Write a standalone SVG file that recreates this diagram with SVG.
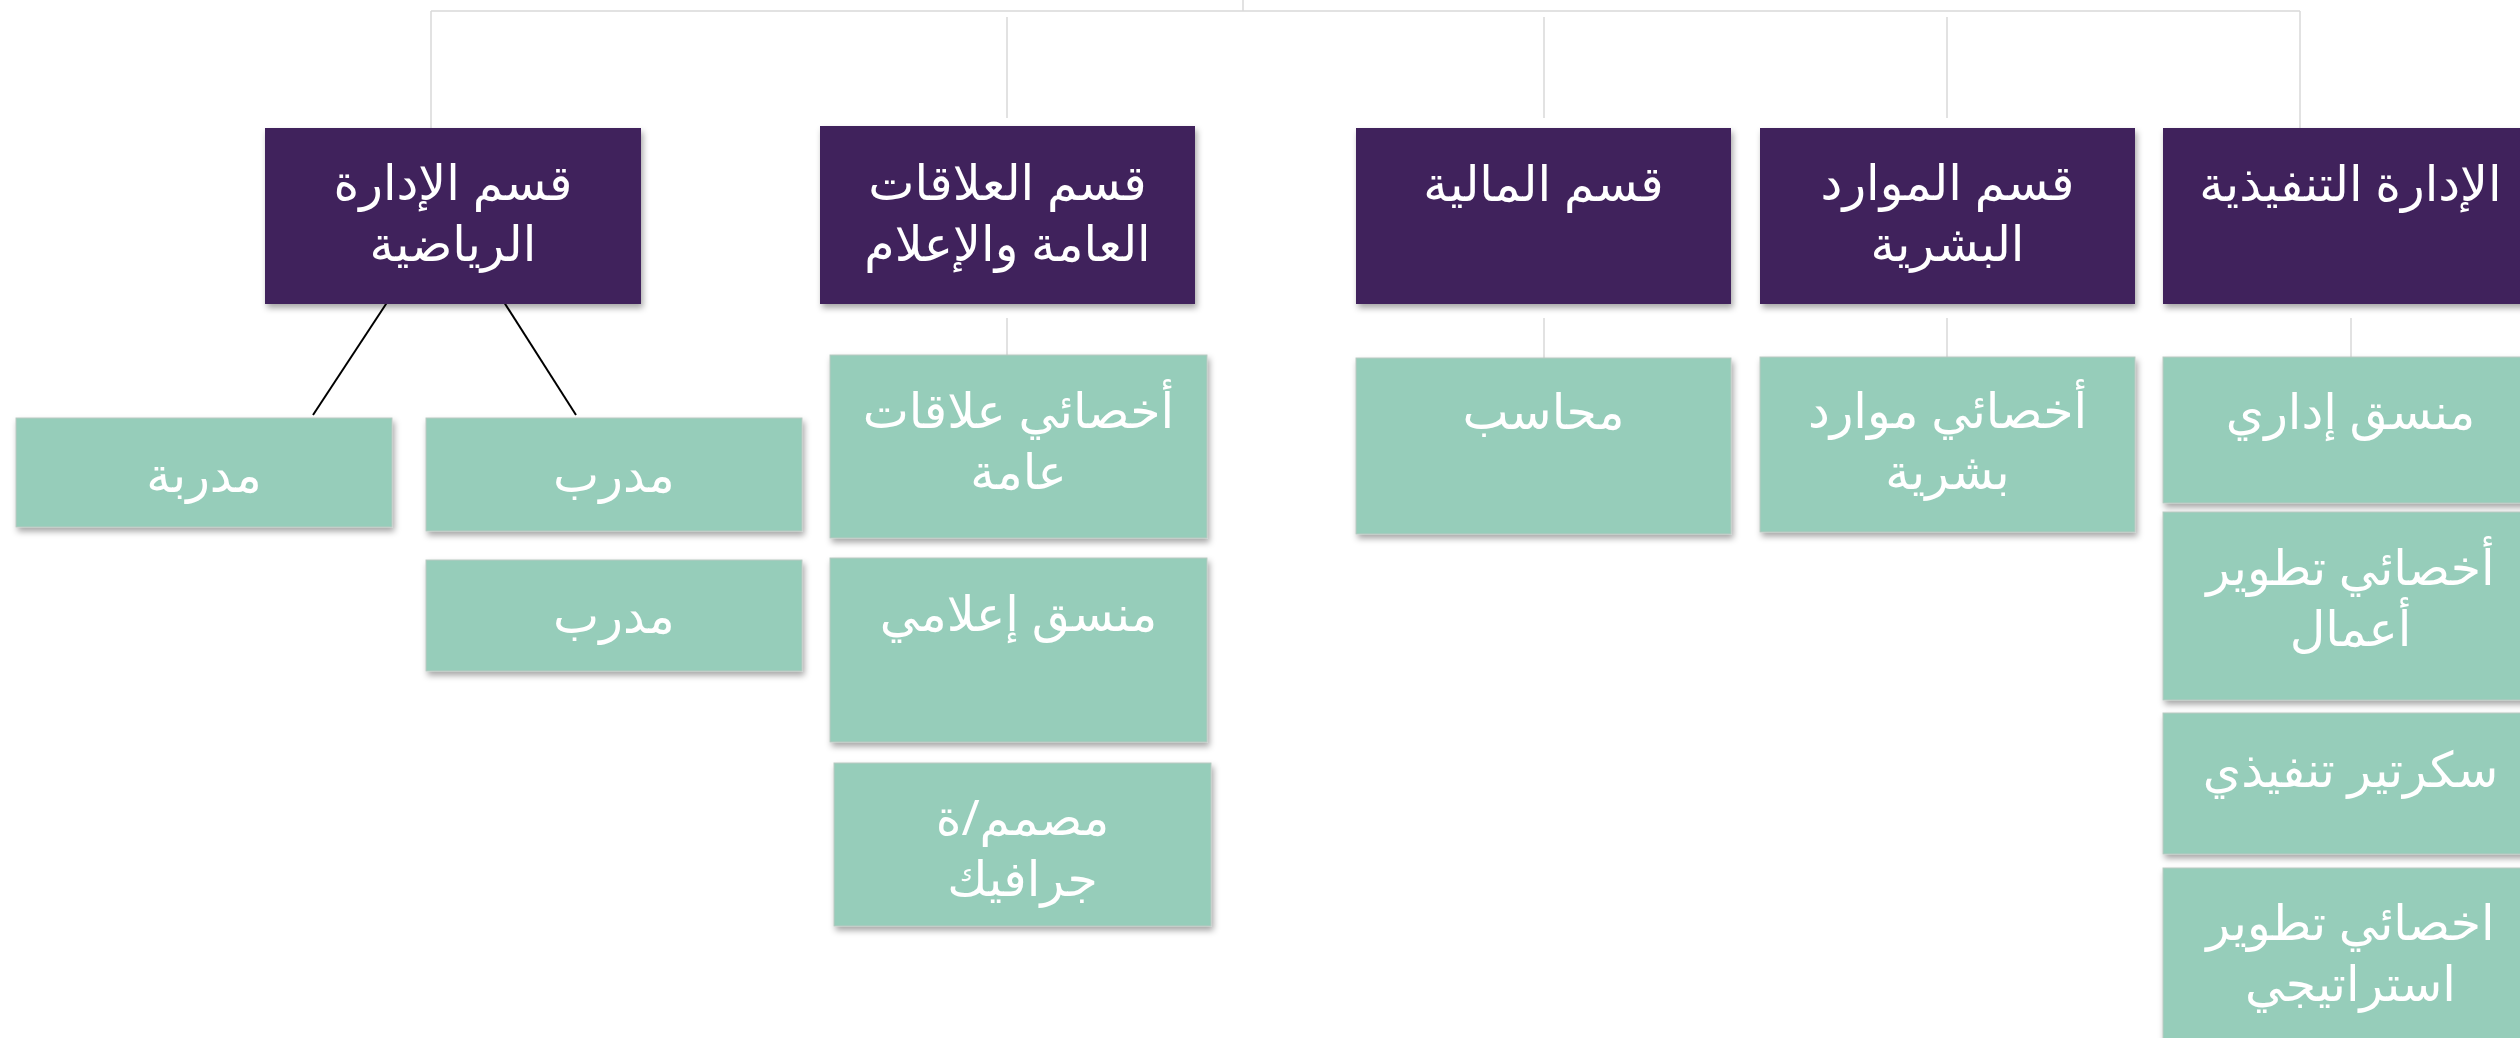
<svg xmlns="http://www.w3.org/2000/svg" width="2520" height="1038" viewBox="0 0 2520 1038">
<defs>
<filter id="sh" x="-5%" y="-5%" width="115%" height="125%">
<feDropShadow dx="2" dy="4" stdDeviation="3" flood-color="#000" flood-opacity="0.35"/>
</filter>
<style>
.dept{fill:#41245c;filter:url(#sh);}
.role{fill:#96cdba;stroke:#b9c9c2;stroke-width:1;filter:url(#sh);}
text{font-family:"Noto Sans","DejaVu Sans",sans-serif;fill:#ffffff;text-anchor:middle;font-size:49px;}
.g{stroke:#d9d9d9;stroke-width:1.5;fill:none;}
.k{stroke:#000;stroke-width:2;fill:none;}
</style>
</defs>
<rect width="2520" height="1038" fill="#ffffff"/>
<g id="connectors">
<line class="g" x1="1243" y1="0" x2="1243" y2="11"/>
<line class="g" x1="431" y1="11" x2="2300" y2="11"/>
<line class="g" x1="431" y1="11" x2="431" y2="128"/>
<line class="g" x1="2300" y1="11" x2="2300" y2="128"/>
<line class="g" x1="1007" y1="17" x2="1007" y2="118"/>
<line class="g" x1="1544" y1="17" x2="1544" y2="118"/>
<line class="g" x1="1947" y1="17" x2="1947" y2="118"/>
<line class="k" x1="388" y1="301" x2="313" y2="415"/>
<line class="k" x1="502" y1="299" x2="576" y2="415"/>
<line class="g" x1="1007" y1="318" x2="1007" y2="355"/>
<line class="g" x1="1544" y1="318" x2="1544" y2="358"/>
<line class="g" x1="1947" y1="318" x2="1947" y2="357"/>
<line class="g" x1="2351" y1="318" x2="2351" y2="357"/>
</g>
<g id="dept-sports"><rect class="dept" x="265" y="128" width="376" height="176"/><text x="453" y="200">قسم الإدارة</text><text x="453" y="261">الرياضية</text></g>
<g id="dept-pr"><rect class="dept" x="820" y="126" width="375" height="178"/><text x="1007.5" y="200">قسم العلاقات</text><text x="1007.5" y="261">العامة والإعلام</text></g>
<g id="dept-finance"><rect class="dept" x="1356" y="128" width="375" height="176"/><text x="1543.5" y="201">قسم المالية</text></g>
<g id="dept-hr"><rect class="dept" x="1760" y="128" width="375" height="176"/><text x="1947.5" y="200">قسم الموارد</text><text x="1947.5" y="261">البشرية</text></g>
<g id="dept-exec"><rect class="dept" x="2163" y="128" width="375" height="176"/><text x="2350.5" y="201">الإدارة التنفيذية</text></g>
<g id="role-coach-f"><rect class="role" x="16" y="418" width="376" height="109"/><text x="204" y="492">مدربة</text></g>
<g id="role-coach-1"><rect class="role" x="426" y="418" width="376" height="113"/><text x="614" y="492">مدرب</text></g>
<g id="role-coach-2"><rect class="role" x="426" y="560" width="376" height="111"/><text x="614" y="633">مدرب</text></g>
<g id="role-pr-1"><rect class="role" x="830" y="355" width="377" height="183"/><text x="1018.5" y="428">أخصائي علاقات</text><text x="1018.5" y="489">عامة</text></g>
<g id="role-pr-2"><rect class="role" x="830" y="558" width="377" height="184"/><text x="1018.5" y="631">منسق إعلامي</text></g>
<g id="role-pr-3"><rect class="role" x="834" y="763" width="377" height="163"/><text x="1022.5" y="835">مصمم/ة</text><text x="1022.5" y="896">جرافيك</text></g>
<g id="role-fin-1"><rect class="role" x="1356" y="358" width="375" height="176"/><text x="1543.5" y="429">محاسب</text></g>
<g id="role-hr-1"><rect class="role" x="1760" y="357" width="375" height="175"/><text x="1947.5" y="428">أخصائي موارد</text><text x="1947.5" y="489">بشرية</text></g>
<g id="role-ex-1"><rect class="role" x="2163" y="357" width="375" height="146"/><text x="2350.5" y="429">منسق إداري</text></g>
<g id="role-ex-2"><rect class="role" x="2163" y="512" width="375" height="188"/><text x="2350.5" y="585">أخصائي تطوير</text><text x="2350.5" y="646">أعمال</text></g>
<g id="role-ex-3"><rect class="role" x="2163" y="713" width="375" height="141"/><text x="2350.5" y="787">سكرتير تنفيذي</text></g>
<g id="role-ex-4"><rect class="role" x="2163" y="868" width="375" height="200"/><text x="2350.5" y="940">اخصائي تطوير</text><text x="2350.5" y="1001">استراتيجي</text></g>
</svg>
